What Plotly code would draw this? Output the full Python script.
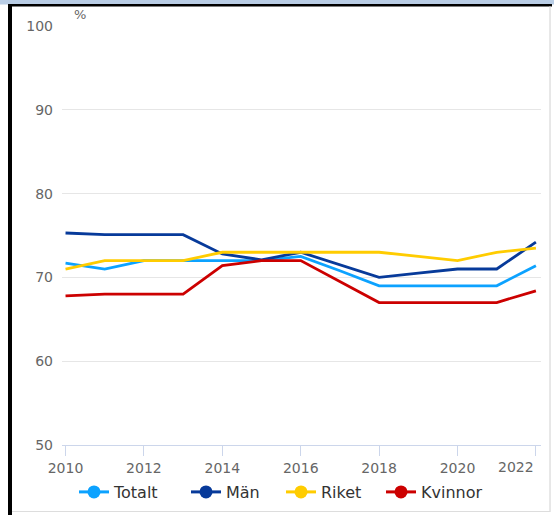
import plotly.graph_objects as go

years = list(range(2010, 2023))
totalt = [71.7, 71.0, 72.0, 72.0, 72.0, 72.0, 72.5, 70.8, 69.0, 69.0, 69.0, 69.0, 71.4]
man = [75.3, 75.1, 75.1, 75.1, 72.8, 72.1, 73.0, 71.5, 70.0, 70.5, 71.0, 71.0, 74.2]
riket = [71.0, 72.0, 72.0, 72.0, 73.0, 73.0, 73.0, 73.0, 73.0, 72.5, 72.0, 73.0, 73.5]
kvinnor = [67.8, 68.0, 68.0, 68.0, 71.4, 72.0, 72.0, 69.5, 67.0, 67.0, 67.0, 67.0, 68.4]

series_names = ["Totalt", "Män", "Riket", "Kvinnor"]
series_vals = [totalt, man, riket, kvinnor]
colors = ["#0ca2ff", "#073a9a", "#ffcc00", "#cc0000"]

x_ticks = [2010, 2012, 2014, 2016, 2018, 2020, 2022]
x_ticktext = ["2010", "2012", "2014", "2016", "2018", "2020", ""]
y_ticks = [50, 60, 70, 80, 90, 100]

W, H = 554, 515
L, R, T, B = 62, 13, 26, 0
AXIS_BOTTOM = 445
PW, PH = W - L - R, H - T - B
legend_left_px = [74, 186, 281, 381]

def px(x):
    return (x - L) / PW

def py(y):
    return (H - B - y) / PH

font_family = "DejaVu Sans"
fig = go.Figure()
for name, vals, c in zip(series_names, series_vals, colors):
    fig.add_trace(go.Scatter(x=years, y=vals, mode="lines", name=name,
                             line=dict(color=c, width=2.8), showlegend=False))

legend_layout = {}
for i, (name, c) in enumerate(zip(series_names, colors)):
    lid = "legend" if i == 0 else f"legend{i + 1}"
    fig.add_trace(go.Scatter(x=[None], y=[None], mode="lines+markers", name=name,
                             line=dict(color=c, width=3), legend=lid,
                             marker=dict(color=c, size=13), showlegend=True))
    legend_layout[lid] = dict(orientation="h", x=px(legend_left_px[i]), xanchor="left",
                              y=py(492), yanchor="middle",
                              font=dict(size=16, color="#333333", family=font_family),
                              bgcolor="rgba(0,0,0,0)")

fig.update_layout(
    width=W, height=H,
    margin=dict(l=L, r=R, t=T, b=B, pad=0),
    paper_bgcolor="white", plot_bgcolor="white",
    font=dict(family=font_family, size=14, color="#666666"),
    xaxis=dict(range=[2009.91, 2022.13], tickvals=x_ticks, ticktext=x_ticktext,
               showgrid=False, zeroline=False, showline=True, linecolor="#ccd6eb",
               linewidth=1, ticks="outside", ticklen=10, tickcolor="#ccd6eb",
               tickfont=dict(size=14, color="#666666"), automargin=False),
    yaxis=dict(range=[50, 100], domain=[py(AXIS_BOTTOM), 1], tickvals=y_ticks,
               showgrid=True, gridcolor="#e6e6e6",
               zeroline=False, ticks="", ticklabelstandoff=8,
               tickfont=dict(size=14, color="#666666"), automargin=False),
    showlegend=True,
    **legend_layout,
)

fig.add_annotation(x=2022, y=50, xref="x", yref="y", text="2022", showarrow=False,
                   xanchor="right", yanchor="top", yshift=-12,
                   font=dict(size=14, color="#666666", family=font_family))
fig.add_annotation(x=px(80), y=py(15), xref="paper", yref="paper", text="%",
                   showarrow=False, xanchor="center", yanchor="middle",
                   font=dict(size=13, color="#666666", family=font_family))

shapes = [
    dict(type="rect", x0=px(0), x1=px(W), y0=py(0), y1=py(4.5), fillcolor="#b9cde5", line_width=0),
    dict(type="rect", x0=px(8), x1=px(552), y0=py(4), y1=py(6.5), fillcolor="#000000", line_width=0),
    dict(type="rect", x0=px(8), x1=px(12), y0=py(4), y1=py(H), fillcolor="#000000", line_width=0),
    dict(type="line", x0=px(550), x1=px(550), y0=py(6), y1=py(512), line=dict(color="#d0d0d0", width=1)),
    dict(type="line", x0=px(12), x1=px(550), y0=py(511.5), y1=py(511.5), line=dict(color="#dddddd", width=1)),
]
for s in shapes:
    fig.add_shape(xref="paper", yref="paper", **s)

fig.write_html("out.html", config={"displayModeBar": False},
               post_script="document.body.style.margin='0';document.body.style.overflow='hidden';")
